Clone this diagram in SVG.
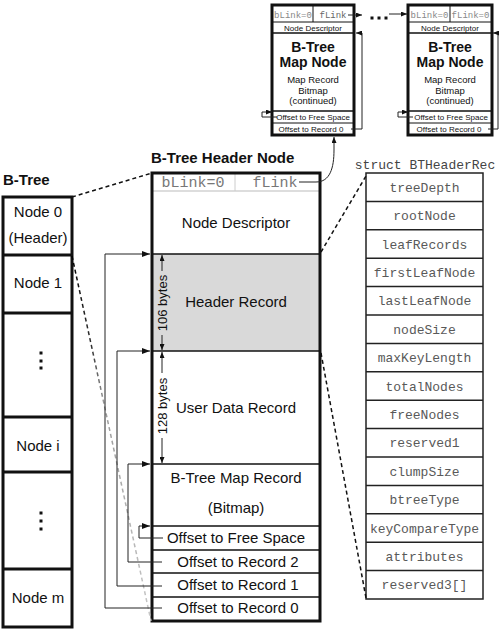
<svg xmlns="http://www.w3.org/2000/svg" width="500" height="629" viewBox="0 0 500 629">
<style>
.s{font-family:"Liberation Sans",Arial,sans-serif;fill:#111;text-anchor:middle}
.b{font-family:"Liberation Sans",Arial,sans-serif;font-weight:bold;fill:#111}
.m{font-family:"Liberation Mono","Courier New",monospace;text-anchor:middle}
.thick{fill:none;stroke:#111;stroke-width:3}
.thin{fill:none;stroke:#111;stroke-width:1.3}
.conn{fill:none;stroke:#222;stroke-width:1}
.dash{fill:none;stroke:#111;stroke-width:1.5;stroke-dasharray:4 3}
</style>
<defs>
<marker id="ah" markerWidth="8" markerHeight="6" refX="8" refY="3" orient="auto" markerUnits="userSpaceOnUse">
<path d="M0,0 L8,3 L0,6 Z" fill="#111"/>
</marker>
<marker id="ahs" markerWidth="6" markerHeight="5" refX="6" refY="2.5" orient="auto" markerUnits="userSpaceOnUse">
<path d="M0,0 L6,2.5 L0,5 Z" fill="#111"/>
</marker>
<linearGradient id="fade" gradientUnits="userSpaceOnUse" x1="72" y1="256" x2="151" y2="621">
<stop offset="0" stop-color="#000"/>
<stop offset="0.25" stop-color="#333"/>
<stop offset="0.4" stop-color="#999"/>
<stop offset="1" stop-color="#c8c8c8"/>
</linearGradient>
</defs>

<g id="btree">
<text class="b" x="3" y="185" font-size="15">B-Tree</text>
<rect class="thick" x="3" y="197" width="69" height="430"/>
<line class="thick" x1="3" y1="255" x2="72" y2="255"/>
<line class="thick" x1="3" y1="313" x2="72" y2="313"/>
<line class="thick" x1="3" y1="417" x2="72" y2="417"/>
<line class="thick" x1="3" y1="472" x2="72" y2="472"/>
<line class="thick" x1="3" y1="569" x2="72" y2="569"/>
<text class="s" x="38" y="217" font-size="15">Node 0</text>
<text class="s" x="38" y="243" font-size="15">(Header)</text>
<text class="s" x="38" y="288" font-size="15">Node 1</text>
<rect x="39.5" y="351.5" width="3" height="3" fill="#111"/>
<rect x="39.5" y="359.5" width="3" height="3" fill="#111"/>
<rect x="39.5" y="366.5" width="3" height="3" fill="#111"/>
<text class="s" x="38" y="451" font-size="15">Node i</text>
<rect x="39.5" y="511.5" width="3" height="3" fill="#111"/>
<rect x="39.5" y="519.5" width="3" height="3" fill="#111"/>
<rect x="39.5" y="527.5" width="3" height="3" fill="#111"/>
<text class="s" x="38" y="603" font-size="15">Node m</text>
</g>

<g id="header-node">
<text class="b" x="151" y="163" font-size="15">B-Tree Header Node</text>
<rect x="152" y="254" width="168" height="97" fill="#d9d9d9"/>
<line x1="152" y1="191" x2="320" y2="191" stroke="#bbb" stroke-width="1"/>
<line x1="235" y1="174" x2="235" y2="191" stroke="#ccc" stroke-width="1"/>
<text class="m" x="193" y="187" font-size="15" fill="#777">bLink=0</text>
<text class="m" x="275" y="187" font-size="15" fill="#777">fLink</text>
<line class="thin" x1="152" y1="254" x2="320" y2="254"/>
<line class="thin" x1="152" y1="351" x2="320" y2="351"/>
<line class="thin" x1="152" y1="464" x2="320" y2="464"/>
<line class="thin" x1="152" y1="526" x2="320" y2="526"/>
<line class="thin" x1="152" y1="550" x2="320" y2="550"/>
<line class="thin" x1="152" y1="573" x2="320" y2="573"/>
<line class="thin" x1="152" y1="597" x2="320" y2="597"/>
<rect class="thick" x="152" y="173" width="168" height="448"/>
<text class="s" x="236" y="228" font-size="15">Node Descriptor</text>
<text class="s" x="236" y="307" font-size="15">Header Record</text>
<text class="s" x="236" y="413" font-size="15">User Data Record</text>
<text class="s" x="236" y="483" font-size="15">B-Tree Map Record</text>
<text class="s" x="236" y="513" font-size="15">(Bitmap)</text>
<text class="s" x="236" y="543" font-size="15">Offset to Free Space</text>
<text class="s" x="238" y="567" font-size="15">Offset to Record 2</text>
<text class="s" x="238" y="590" font-size="15">Offset to Record 1</text>
<text class="s" x="238" y="613" font-size="15">Offset to Record 0</text>
<text class="s" x="0" y="0" font-size="13" transform="translate(167,303) rotate(-90)">106 bytes</text>
<text class="s" x="0" y="0" font-size="13" transform="translate(167,406) rotate(-90)">128 bytes</text>
</g>

<g id="map-node-1">
<rect x="272" y="5" width="82" height="130" fill="#fff"/>
<line x1="272" y1="22" x2="354" y2="22" stroke="#111" stroke-width="1"/>
<line x1="313" y1="5" x2="313" y2="22" stroke="#111" stroke-width="1"/>
<line x1="272" y1="33" x2="354" y2="33" stroke="#111" stroke-width="1.5"/>
<line x1="272" y1="111" x2="354" y2="111" stroke="#111" stroke-width="1.5"/>
<line x1="272" y1="123" x2="354" y2="123" stroke="#111" stroke-width="1"/>
<rect class="thick" x="272" y="5" width="82" height="130"/>
<text class="m" x="293" y="18" font-size="9" fill="#888">bLink=0</text>
<text class="m" x="333" y="18" font-size="9" fill="#666">fLink</text>
<text class="s" x="313" y="30.5" font-size="8">Node Descriptor</text>
<text class="b" x="313" y="52" font-size="14" text-anchor="middle">B-Tree</text>
<text class="b" x="313" y="67" font-size="14" text-anchor="middle">Map Node</text>
<text class="s" x="313" y="82.5" font-size="9.5" fill="#333">Map Record</text>
<text class="s" x="313" y="93.5" font-size="9.5" fill="#333">Bitmap</text>
<text class="s" x="313" y="103.5" font-size="9.5" fill="#333">(continued)</text>
<text class="s" x="313" y="120" font-size="8">Offset to Free Space</text>
<text class="s" x="311" y="132" font-size="8">Offset to Record 0</text>
</g>

<g id="map-node-2">
<rect x="408" y="5" width="84" height="130" fill="#fff"/>
<line x1="408" y1="22" x2="492" y2="22" stroke="#111" stroke-width="1"/>
<line x1="450" y1="5" x2="450" y2="22" stroke="#111" stroke-width="1"/>
<line x1="408" y1="33" x2="492" y2="33" stroke="#111" stroke-width="1.5"/>
<line x1="408" y1="111" x2="492" y2="111" stroke="#111" stroke-width="1.5"/>
<line x1="408" y1="123" x2="492" y2="123" stroke="#111" stroke-width="1"/>
<rect class="thick" x="408" y="5" width="84" height="130"/>
<text class="m" x="429.5" y="18" font-size="9" fill="#888">bLink=0</text>
<text class="m" x="470.5" y="18" font-size="9" fill="#888">fLink=0</text>
<text class="s" x="450" y="30.5" font-size="8">Node Descriptor</text>
<text class="b" x="450" y="52" font-size="14" text-anchor="middle">B-Tree</text>
<text class="b" x="450" y="67" font-size="14" text-anchor="middle">Map Node</text>
<text class="s" x="450" y="82.5" font-size="9.5" fill="#333">Map Record</text>
<text class="s" x="450" y="93.5" font-size="9.5" fill="#333">Bitmap</text>
<text class="s" x="450" y="103.5" font-size="9.5" fill="#333">(continued)</text>
<text class="s" x="451" y="120" font-size="8">Offset to Free Space</text>
<text class="s" x="449" y="132" font-size="8">Offset to Record 0</text>
</g>

<g id="struct">
<text class="m" x="425" y="169" font-size="13" fill="#444">struct BTHeaderRec</text>
<rect x="366" y="173" width="117" height="426" fill="#fff" stroke="#222" stroke-width="1.5"/>
<g stroke="#222" stroke-width="1.5">
<line x1="366" y1="201.4" x2="483" y2="201.4"/>
<line x1="366" y1="229.8" x2="483" y2="229.8"/>
<line x1="366" y1="258.2" x2="483" y2="258.2"/>
<line x1="366" y1="286.6" x2="483" y2="286.6"/>
<line x1="366" y1="315" x2="483" y2="315"/>
<line x1="366" y1="343.4" x2="483" y2="343.4"/>
<line x1="366" y1="371.8" x2="483" y2="371.8"/>
<line x1="366" y1="400.2" x2="483" y2="400.2"/>
<line x1="366" y1="428.6" x2="483" y2="428.6"/>
<line x1="366" y1="457" x2="483" y2="457"/>
<line x1="366" y1="485.4" x2="483" y2="485.4"/>
<line x1="366" y1="513.8" x2="483" y2="513.8"/>
<line x1="366" y1="542.2" x2="483" y2="542.2"/>
<line x1="366" y1="570.6" x2="483" y2="570.6"/>
</g>
<g class="m" font-size="13" fill="#595959">
<text x="424.5" y="191.7">treeDepth</text>
<text x="424.5" y="220.1">rootNode</text>
<text x="424.5" y="248.5">leafRecords</text>
<text x="424.5" y="276.9">firstLeafNode</text>
<text x="424.5" y="305.3">lastLeafNode</text>
<text x="424.5" y="333.7">nodeSize</text>
<text x="424.5" y="362.1">maxKeyLength</text>
<text x="424.5" y="390.5">totalNodes</text>
<text x="424.5" y="418.9">freeNodes</text>
<text x="424.5" y="447.3">reserved1</text>
<text x="424.5" y="475.7">clumpSize</text>
<text x="424.5" y="504.1">btreeType</text>
<text x="424.5" y="532.5">keyCompareType</text>
<text x="424.5" y="560.9">attributes</text>
<text x="424.5" y="589.3">reserved3[]</text>
</g>
</g>

<g id="connectors">
<line class="dash" x1="72" y1="197" x2="152" y2="173"/>
<line x1="72" y1="256" x2="151" y2="621" fill="none" stroke="url(#fade)" stroke-width="1.5" stroke-dasharray="4 3"/>
<line class="dash" x1="321" y1="252" x2="366" y2="176"/>
<line class="dash" x1="321" y1="353" x2="366" y2="598"/>
<path class="conn" d="M162,608 H105 V254 H150" marker-end="url(#ah)"/>
<path class="conn" d="M162,586 H117 V351 H150" marker-end="url(#ah)"/>
<path class="conn" d="M162,562 H128 V464 H150" marker-end="url(#ah)"/>
<path class="conn" d="M163,538 H139 V526 H150" marker-end="url(#ah)"/>
<path class="conn" d="M162,271 V255" marker-end="url(#ahs)"/>
<path class="conn" d="M162,335 V350" marker-end="url(#ahs)"/>
<path class="conn" d="M162,373 V352" marker-end="url(#ahs)"/>
<path class="conn" d="M162,438 V463" marker-end="url(#ahs)"/>
<path class="conn" d="M299,182 H316 C330,182 334,168 334,150 V137" marker-end="url(#ahs)"/>
<path class="conn" d="M348,15 H362" marker-end="url(#ahs)"/>
<rect x="370.5" y="16.5" width="3" height="3" fill="#111"/>
<rect x="377.5" y="16.5" width="3" height="3" fill="#111"/>
<rect x="384.5" y="16.5" width="3" height="3" fill="#111"/>
<path class="conn" d="M389,14 H407" marker-end="url(#ahs)"/>
<path class="conn" d="M277,117 H262 V112 H272" marker-end="url(#ahs)"/>
<path class="conn" d="M351,129 H362 V33 H356" marker-end="url(#ahs)"/>
<path class="conn" d="M413,117 H398 V112 H408" marker-end="url(#ahs)"/>
<path class="conn" d="M488,129 H498 V33 H493" marker-end="url(#ahs)"/>
</g>
</svg>
